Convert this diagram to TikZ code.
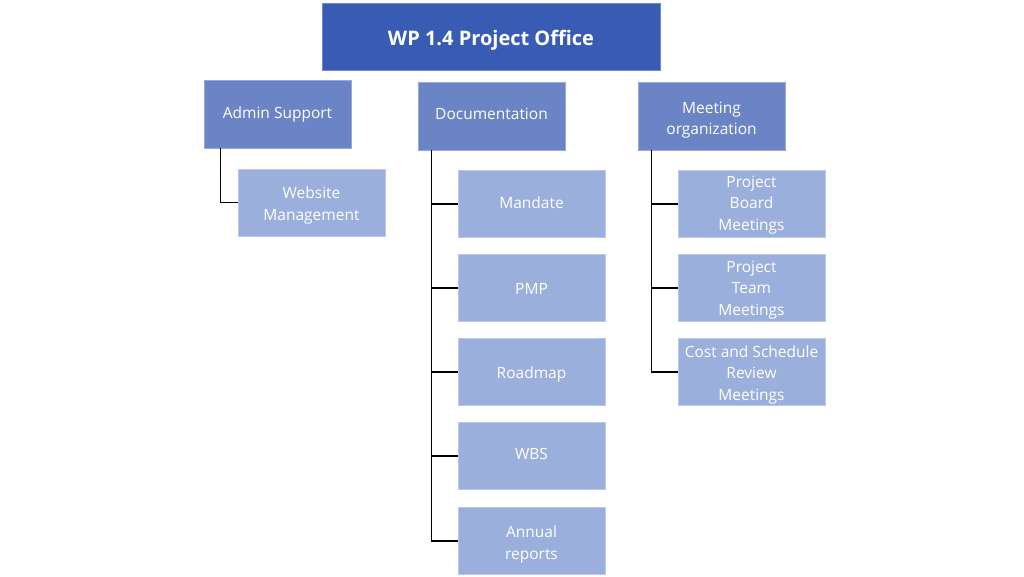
\documentclass[tikz,border=0pt]{standalone}
\usepackage{fontspec}
\setmainfont{Open Sans}
\begin{document}
\begin{tikzpicture}[x=1pt,y=-1pt,
  topbox/.style={draw=topborder,line width=0.8pt,fill=topfill,minimum width=338pt,minimum height=67pt,inner sep=0pt},
  midbox/.style={draw=midborder,line width=0.8pt,fill=midfill,minimum width=147pt,minimum height=68pt,inner sep=0pt},
  leafbox/.style={draw=leafborder,line width=0.8pt,fill=leaffill,minimum width=147pt,minimum height=67pt,inner sep=0pt},
  toptxt/.style={text=white,font=\fontsize{20}{24}\selectfont\bfseries,inner sep=0pt},
  txt/.style={text=white,font=\fontsize{15.5}{21.5}\selectfont,align=center,inner sep=0pt},
  conn/.style={draw=black,line width=1.6pt}]
\definecolor{topfill}{RGB}{56,92,180}
\definecolor{topborder}{RGB}{110,140,210}
\definecolor{midfill}{RGB}{106,132,198}
\definecolor{midborder}{RGB}{150,170,220}
\definecolor{leaffill}{RGB}{155,175,220}
\definecolor{leafborder}{RGB}{185,200,235}
\useasboundingbox (0,0) rectangle (1024,576);
\fill[white] (0,0) rectangle (1024,576);
\node[topbox,label={[toptxt,yshift=-4pt]center:WP 1.4 Project Office}] (top) at (491,36.5) {};
\node[midbox,label={[txt,yshift=0pt]center:Admin Support}] (admin) at (277.5,114) {};
\node[midbox,label={[txt,yshift=2pt]center:Documentation}] (doc) at (491.5,116) {};
\node[midbox,label={[txt,yshift=-4pt]center:Meeting\\organization}] (meet) at (711.5,116) {};
\node[leafbox,label={[txt,yshift=-3pt]center:Website\\Management}] (web) at (311.5,202.5) {};
\node[leafbox,label={[txt,yshift=1pt]center:Mandate}] (mandate) at (531.5,204) {};
\node[leafbox,label={[txt,yshift=-1pt]center:PMP}] (pmp) at (531.5,288) {};
\node[leafbox,label={[txt,yshift=-2pt]center:Roadmap}] (road) at (531.5,372) {};
\node[leafbox,label={[txt,yshift=2pt]center:WBS}] (wbs) at (531.5,456) {};
\node[leafbox,label={[txt,yshift=-3.5pt]center:Annual\\reports}] (annual) at (531.5,541) {};
\node[leafbox,label={[txt,yshift=-1pt]center:Project\\Board\\Meetings}] (board) at (751.5,204) {};
\node[leafbox,label={[txt,yshift=-2pt]center:Project\\Team\\Meetings}] (team) at (751.5,288) {};
\node[leafbox,label={[txt,yshift=-2.5pt]center:Cost and Schedule\\Review\\Meetings}] (cost) at (751.5,372) {};
\draw[conn] ([xshift=17pt]admin.south west) |- (web.west);
\foreach \c in {mandate,pmp,road,wbs,annual}
  \draw[conn] ([xshift=14pt]doc.south west) |- (\c.west);
\foreach \c in {board,team,cost}
  \draw[conn] ([xshift=14pt]meet.south west) |- (\c.west);
\end{tikzpicture}
\end{document}
